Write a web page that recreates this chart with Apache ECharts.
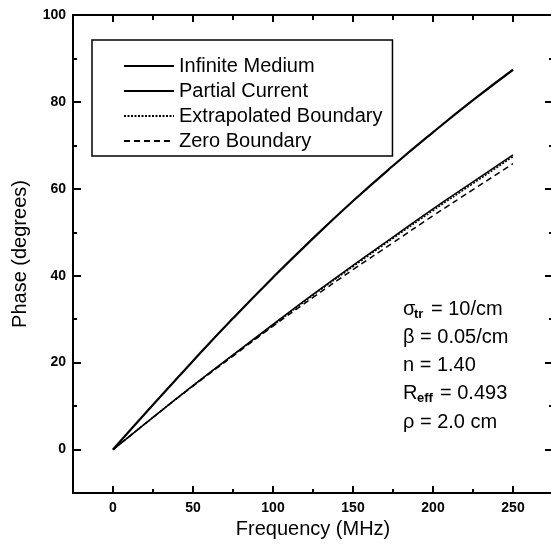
<!DOCTYPE html>
<html>
<head>
<meta charset="utf-8">
<title>Phase vs frequency</title>
<script src="https://cdn.jsdelivr.net/npm/echarts@6/dist/echarts.min.js"></script>
<style>
    html, body { margin: 0; padding: 0; background: #fff; }
    #chart { width: 551px; height: 553px; }
</style>
</head>
<body>
<div id="chart"></div>
<script>
// frequency samples (MHz)
const freq = [0, 25, 50, 75, 100, 125, 150, 175, 200, 225, 250];

// phase (degrees)
const infiniteMedium = [0, 10.3, 20.4, 30.2, 39.6, 48.6, 57.2, 65.3, 73.0, 80.4, 87.4];
const partialCurrent = [0, 7.4, 14.7, 21.8, 28.8, 35.7, 42.4, 48.9, 55.4, 61.6, 67.8];
const extrapolatedBoundary = [0, 7.4, 14.7, 21.7, 28.6, 35.5, 42.1, 48.6, 55.0, 61.2, 67.4];
const zeroBoundary = [0, 7.4, 14.6, 21.5, 28.4, 35.0, 41.4, 47.6, 53.8, 59.8, 65.8];

const seriesNames = ["Infinite Medium", "Partial Current", "Extrapolated Boundary", "Zero Boundary"];

// tick positions
const xMajor = [0, 50, 100, 150, 200, 250];
const xMinor = [25, 75, 125, 175, 225];
const yMajor = [0, 20, 40, 60, 80, 100];
const yMinor = [10, 30, 50, 70, 90];

const FONT = "'Liberation Sans', Arial, sans-serif";
const BLACK = "#000";

const toPairs = values => freq.map((f, i) => [f, values[i]]);

// one axis = either the major ticks (with labels) or the minor ticks only
const makeAxis = (type, position, ticks, len, opts) => {
    let axis = {
        type: "value",
        position: position,
        min: type === "x" ? -25 : -10,
        max: type === "x" ? 275 : 100,
        axisLine: {
            show: opts.line,
            onZero: false,
            lineStyle: { color: BLACK, width: 2 }
        },
        axisTick: {
            show: true,
            inside: true,
            length: len,
            customValues: ticks,
            lineStyle: { color: BLACK, width: 2 }
        },
        axisLabel: { show: false },
        splitLine: { show: false },
        splitArea: { show: false }
    };
    if (opts.labels) {
        axis.axisLabel = {
            show: true,
            customValues: ticks,
            margin: type === "x" ? 8 : 7,
            color: BLACK,
            fontSize: 14,
            fontWeight: "bold",
            fontFamily: FONT
        };
    }
    if (opts.name) {
        axis.name = opts.name;
        axis.nameLocation = "middle";
        axis.nameGap = opts.nameGap;
        axis.nameTextStyle = { color: BLACK, fontSize: 20, fontFamily: FONT };
    }
    return axis;
};

// text block at the lower right: [main, subscript, rest, subscript x offset]
const notes = [
    ["σ", "tr", "= 10/cm", 11],
    ["β = 0.05/cm", "", "", 0],
    ["n = 1.40", "", "", 0],
    ["R", "eff", "= 0.493", 14],
    ["ρ = 2.0 cm", "", "", 0]
];
const noteGraphics = () => {
    let out = [];
    let x0 = 403;
    let y0 = 309;
    notes.forEach((n, i) => {
        let y = y0 + i * 28.3;
        out.push({
            type: "text", x: x0, y: y,
            style: { text: n[0], font: "20px " + FONT, fill: BLACK, verticalAlign: "middle" }
        });
        if (n[1]) {
            let subW = n[1] === "tr" ? 17 : 23;
            out.push({
                type: "text", x: x0 + n[3], y: y + 5,
                style: { text: n[1], font: "bold 13px " + FONT, fill: BLACK, verticalAlign: "middle" }
            });
            out.push({
                type: "text", x: x0 + n[3] + subW, y: y,
                style: { text: n[2], font: "20px " + FONT, fill: BLACK, verticalAlign: "middle" }
            });
        }
    });
    return out;
};

const chart = echarts.init(document.getElementById("chart"), null, { renderer: "canvas" });

const option = {
    animation: false,
    backgroundColor: "#fff",
    grid: {
        left: 73,
        right: -2,
        top: 15,
        bottom: 60,
        containLabel: false,
        outerBoundsMode: "none"
    },
    legend: {
        data: seriesNames,
        orient: "vertical",
        left: 92,
        top: 40,
        padding: [16, 10, 5, 31],
        itemGap: 5,
        itemWidth: 50,
        itemHeight: 14,
        selectedMode: false,
        borderColor: BLACK,
        borderWidth: 1.5,
        borderRadius: 0,
        backgroundColor: "#fff",
        // hide the marker in the middle of the legend line
        itemStyle: { opacity: 0 },
        textStyle: { color: BLACK, fontSize: 20, fontFamily: FONT }
    },
    xAxis: [
        makeAxis("x", "bottom", xMajor, 7, { line: true, labels: true, name: "Frequency (MHz)", nameGap: 26 }),
        makeAxis("x", "bottom", xMinor, 4, { line: false }),
        makeAxis("x", "top", xMajor, 7, { line: true }),
        makeAxis("x", "top", xMinor, 5, { line: false })
    ],
    yAxis: [
        makeAxis("y", "left", yMajor, 8, { line: true, labels: true, name: "Phase (degrees)", nameGap: 43 }),
        makeAxis("y", "left", yMinor, 4, { line: false }),
        makeAxis("y", "right", yMajor, 8, { line: true }),
        makeAxis("y", "right", yMinor, 4, { line: false })
    ],
    series: [
        {
            name: seriesNames[0], type: "line", data: toPairs(infiniteMedium),
            symbol: "none", smooth: true, z: 4,
            itemStyle: { color: BLACK },
            lineStyle: { color: BLACK, width: 2.2, type: "solid" }
        },
        {
            name: seriesNames[1], type: "line", data: toPairs(partialCurrent),
            symbol: "none", smooth: true, z: 3,
            itemStyle: { color: BLACK },
            lineStyle: { color: BLACK, width: 1.5, type: "solid" }
        },
        {
            name: seriesNames[2], type: "line", data: toPairs(extrapolatedBoundary),
            symbol: "none", smooth: true, z: 3,
            itemStyle: { color: BLACK },
            lineStyle: { color: BLACK, width: 1.5, type: [2, 1.5] }
        },
        {
            name: seriesNames[3], type: "line", data: toPairs(zeroBoundary),
            symbol: "none", smooth: true, z: 3,
            itemStyle: { color: BLACK },
            lineStyle: { color: BLACK, width: 1.5, type: [6, 4] }
        }
    ],
    graphic: noteGraphics()
};

chart.setOption(option);
</script>
</body>
</html>
